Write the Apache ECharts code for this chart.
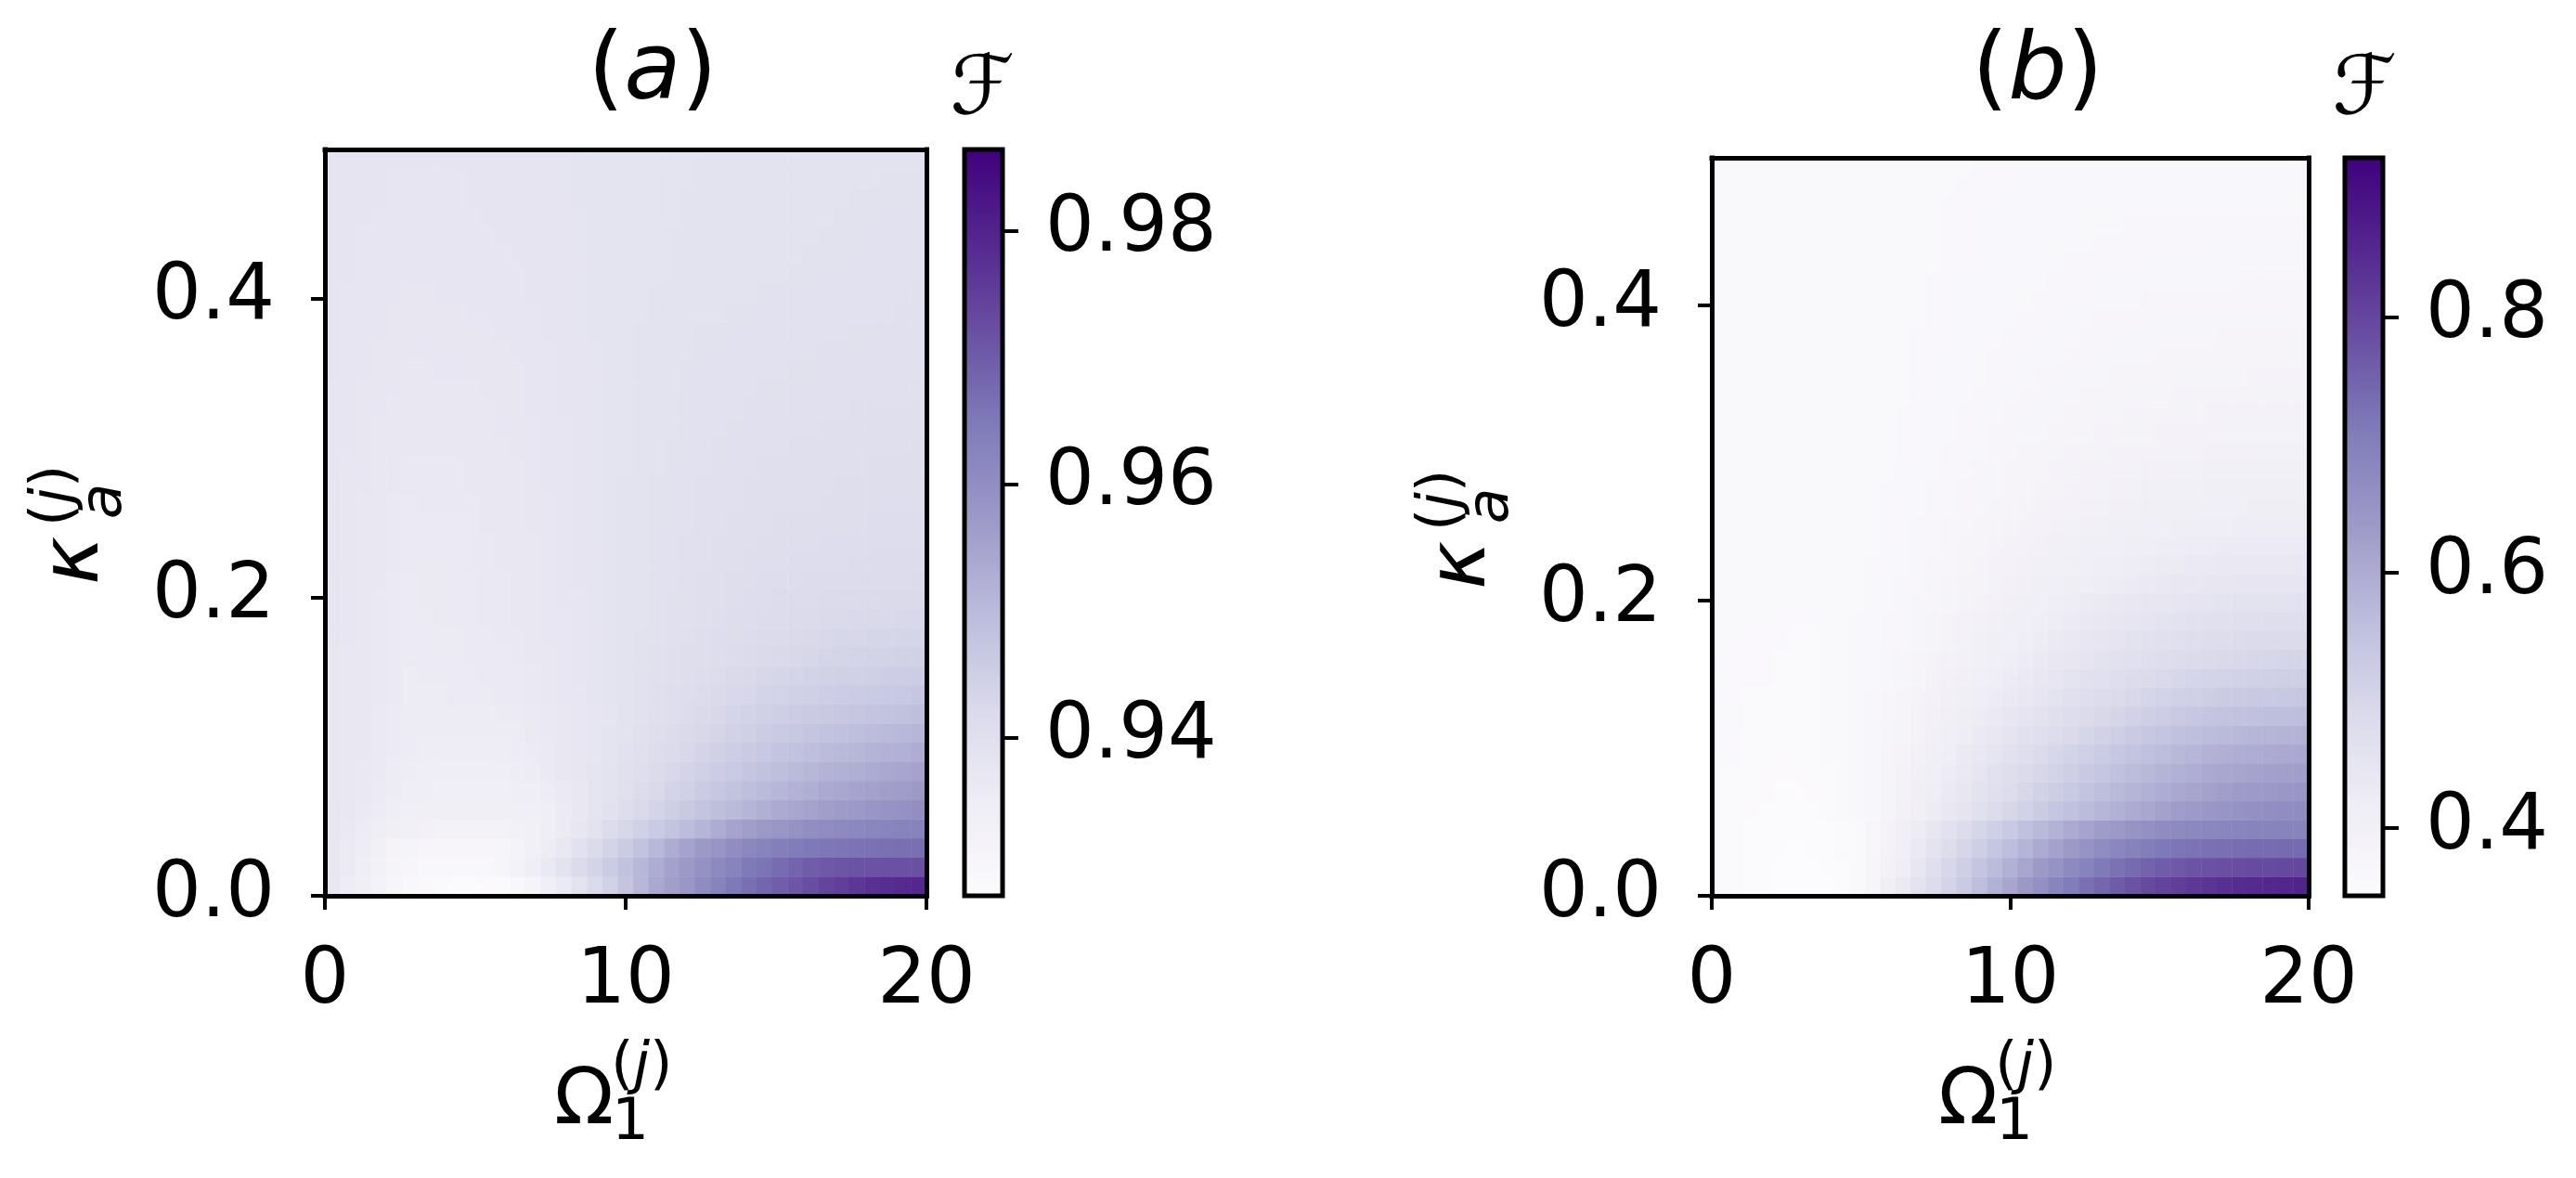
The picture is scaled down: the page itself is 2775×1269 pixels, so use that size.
<!DOCTYPE html>
<html>
<head>
<meta charset="utf-8">
<script src="https://cdn.jsdelivr.net/npm/echarts@6/dist/echarts.min.js"></script>
<style>html,body{margin:0;padding:0;background:#fff}#c{width:2775px;height:1269px}</style>
</head>
<body>
<div id="c"></div>
<script>
// ---------------- data ----------------
const omegaCenters = [0.256,0.769,1.282,1.795,2.308,2.821,3.333,3.846,4.359,4.872,5.385,5.897,6.410,6.923,7.436,7.949,8.462,8.974,9.487,10.000,10.513,11.026,11.538,12.051,12.564,13.077,13.590,14.103,14.615,15.128,15.641,16.154,16.667,17.179,17.692,18.205,18.718,19.231,19.744];
const kappaCenters = [0.0064,0.0192,0.0321,0.0449,0.0577,0.0705,0.0833,0.0962,0.1090,0.1218,0.1346,0.1474,0.1603,0.1731,0.1859,0.1987,0.2115,0.2244,0.2372,0.2500,0.2628,0.2756,0.2885,0.3013,0.3141,0.3269,0.3397,0.3526,0.3654,0.3782,0.3910,0.4038,0.4167,0.4295,0.4423,0.4551,0.4679,0.4808,0.4936];
const xTicks = [0, 10, 20];
const yTicks = [0.0, 0.2, 0.4];
const xRange = [0, 20];
const yRange = [0, 0.5];
const cbarRangeA = [0.9275, 0.9864];
const cbarTicksA = [0.94, 0.96, 0.98];
const cbarRangeB = [0.347, 0.925];
const cbarTicksB = [0.4, 0.6, 0.8];

// rows: kappa from bottom (index 0) to top; columns: omega left to right
const fidelityA = [
[0.9370,0.9351,0.9340,0.9324,0.9309,0.9298,0.9289,0.9284,0.9282,0.9282,0.9283,0.9285,0.9295,0.9312,0.9336,0.9363,0.9392,0.9419,0.9442,0.9475,0.9507,0.9539,0.9562,0.9580,0.9606,0.9629,0.9650,0.9667,0.9682,0.9695,0.9708,0.9722,0.9738,0.9750,0.9762,0.9772,0.9779,0.9786,0.9792],
[0.9375,0.9359,0.9347,0.9330,0.9314,0.9304,0.9298,0.9295,0.9295,0.9295,0.9296,0.9309,0.9324,0.9347,0.9366,0.9389,0.9417,0.9437,0.9460,0.9484,0.9509,0.9532,0.9554,0.9573,0.9593,0.9611,0.9629,0.9646,0.9659,0.9673,0.9685,0.9697,0.9705,0.9710,0.9713,0.9715,0.9716,0.9717,0.9718],
[0.9375,0.9360,0.9351,0.9333,0.9317,0.9312,0.9305,0.9304,0.9304,0.9304,0.9304,0.9307,0.9315,0.9333,0.9351,0.9372,0.9395,0.9419,0.9437,0.9460,0.9481,0.9505,0.9531,0.9552,0.9573,0.9584,0.9602,0.9617,0.9629,0.9638,0.9643,0.9649,0.9653,0.9657,0.9660,0.9662,0.9664,0.9665,0.9666],
[0.9377,0.9366,0.9357,0.9348,0.9336,0.9333,0.9327,0.9324,0.9324,0.9324,0.9324,0.9324,0.9325,0.9333,0.9345,0.9360,0.9375,0.9389,0.9413,0.9431,0.9448,0.9463,0.9478,0.9496,0.9513,0.9531,0.9549,0.9561,0.9573,0.9581,0.9590,0.9599,0.9605,0.9611,0.9616,0.9620,0.9623,0.9626,0.9629],
[0.9377,0.9370,0.9363,0.9356,0.9348,0.9342,0.9340,0.9338,0.9336,0.9336,0.9336,0.9336,0.9336,0.9342,0.9348,0.9358,0.9369,0.9382,0.9395,0.9410,0.9425,0.9438,0.9451,0.9465,0.9478,0.9490,0.9502,0.9513,0.9525,0.9535,0.9544,0.9552,0.9561,0.9568,0.9574,0.9581,0.9587,0.9592,0.9599],
[0.9377,0.9372,0.9366,0.9360,0.9354,0.9348,0.9346,0.9344,0.9342,0.9342,0.9343,0.9344,0.9345,0.9350,0.9356,0.9363,0.9372,0.9382,0.9392,0.9402,0.9413,0.9425,0.9437,0.9448,0.9460,0.9471,0.9481,0.9492,0.9502,0.9510,0.9519,0.9528,0.9537,0.9543,0.9549,0.9555,0.9561,0.9565,0.9573],
[0.9377,0.9372,0.9367,0.9362,0.9356,0.9351,0.9350,0.9349,0.9348,0.9348,0.9349,0.9350,0.9351,0.9356,0.9362,0.9368,0.9375,0.9382,0.9390,0.9399,0.9407,0.9417,0.9428,0.9438,0.9448,0.9457,0.9466,0.9475,0.9484,0.9492,0.9500,0.9509,0.9516,0.9522,0.9528,0.9534,0.9540,0.9544,0.9552],
[0.9377,0.9373,0.9368,0.9363,0.9359,0.9354,0.9353,0.9351,0.9351,0.9351,0.9351,0.9353,0.9354,0.9359,0.9364,0.9369,0.9375,0.9381,0.9388,0.9394,0.9401,0.9410,0.9419,0.9428,0.9437,0.9445,0.9453,0.9461,0.9469,0.9477,0.9484,0.9492,0.9499,0.9504,0.9509,0.9515,0.9519,0.9523,0.9531],
[0.9377,0.9373,0.9368,0.9363,0.9359,0.9354,0.9354,0.9354,0.9354,0.9354,0.9355,0.9356,0.9357,0.9361,0.9366,0.9370,0.9375,0.9380,0.9386,0.9392,0.9398,0.9406,0.9413,0.9421,0.9428,0.9435,0.9442,0.9450,0.9457,0.9463,0.9469,0.9475,0.9481,0.9486,0.9492,0.9497,0.9502,0.9505,0.9510],
[0.9377,0.9373,0.9369,0.9364,0.9360,0.9356,0.9356,0.9356,0.9356,0.9356,0.9357,0.9359,0.9360,0.9364,0.9367,0.9372,0.9376,0.9380,0.9385,0.9390,0.9395,0.9402,0.9408,0.9415,0.9422,0.9428,0.9434,0.9440,0.9445,0.9451,0.9456,0.9461,0.9466,0.9470,0.9474,0.9477,0.9481,0.9484,0.9490],
[0.9377,0.9373,0.9369,0.9365,0.9361,0.9357,0.9357,0.9357,0.9358,0.9359,0.9360,0.9362,0.9363,0.9366,0.9370,0.9374,0.9377,0.9382,0.9386,0.9391,0.9395,0.9401,0.9406,0.9411,0.9416,0.9421,0.9427,0.9431,0.9437,0.9441,0.9445,0.9449,0.9453,0.9457,0.9460,0.9463,0.9466,0.9468,0.9472],
[0.9377,0.9373,0.9369,0.9366,0.9362,0.9357,0.9358,0.9358,0.9359,0.9360,0.9361,0.9363,0.9364,0.9367,0.9371,0.9375,0.9379,0.9383,0.9386,0.9390,0.9394,0.9399,0.9403,0.9408,0.9412,0.9416,0.9421,0.9425,0.9429,0.9432,0.9436,0.9439,0.9442,0.9445,0.9447,0.9450,0.9453,0.9454,0.9457],
[0.9377,0.9373,0.9370,0.9366,0.9362,0.9358,0.9359,0.9359,0.9360,0.9362,0.9363,0.9364,0.9366,0.9369,0.9373,0.9376,0.9379,0.9383,0.9386,0.9390,0.9393,0.9397,0.9401,0.9405,0.9408,0.9412,0.9416,0.9419,0.9423,0.9426,0.9428,0.9431,0.9434,0.9435,0.9438,0.9440,0.9441,0.9442,0.9445],
[0.9378,0.9374,0.9370,0.9367,0.9363,0.9359,0.9359,0.9360,0.9360,0.9362,0.9364,0.9365,0.9367,0.9370,0.9374,0.9377,0.9380,0.9383,0.9387,0.9390,0.9393,0.9396,0.9400,0.9403,0.9406,0.9409,0.9412,0.9415,0.9418,0.9420,0.9422,0.9425,0.9427,0.9429,0.9430,0.9432,0.9433,0.9434,0.9435],
[0.9378,0.9374,0.9370,0.9367,0.9363,0.9359,0.9360,0.9361,0.9361,0.9363,0.9365,0.9366,0.9368,0.9371,0.9374,0.9377,0.9380,0.9383,0.9386,0.9389,0.9392,0.9395,0.9398,0.9400,0.9403,0.9406,0.9409,0.9411,0.9414,0.9416,0.9418,0.9420,0.9422,0.9423,0.9424,0.9425,0.9426,0.9427,0.9428],
[0.9378,0.9374,0.9371,0.9367,0.9364,0.9360,0.9361,0.9361,0.9362,0.9364,0.9366,0.9367,0.9369,0.9372,0.9375,0.9378,0.9381,0.9384,0.9387,0.9389,0.9392,0.9395,0.9397,0.9400,0.9402,0.9404,0.9407,0.9409,0.9411,0.9413,0.9415,0.9416,0.9418,0.9419,0.9420,0.9420,0.9421,0.9421,0.9422],
[0.9379,0.9375,0.9371,0.9368,0.9364,0.9360,0.9361,0.9361,0.9362,0.9364,0.9366,0.9367,0.9369,0.9372,0.9376,0.9379,0.9382,0.9384,0.9387,0.9389,0.9392,0.9394,0.9396,0.9399,0.9401,0.9403,0.9405,0.9407,0.9409,0.9410,0.9412,0.9413,0.9414,0.9414,0.9415,0.9415,0.9416,0.9416,0.9417],
[0.9379,0.9375,0.9372,0.9368,0.9365,0.9361,0.9362,0.9362,0.9363,0.9365,0.9367,0.9368,0.9370,0.9373,0.9376,0.9379,0.9382,0.9385,0.9387,0.9390,0.9392,0.9394,0.9396,0.9398,0.9400,0.9402,0.9404,0.9405,0.9407,0.9408,0.9409,0.9410,0.9411,0.9412,0.9413,0.9413,0.9414,0.9414,0.9414],
[0.9379,0.9376,0.9372,0.9369,0.9365,0.9362,0.9363,0.9363,0.9364,0.9366,0.9367,0.9369,0.9370,0.9373,0.9376,0.9379,0.9382,0.9385,0.9387,0.9390,0.9392,0.9394,0.9396,0.9397,0.9399,0.9401,0.9402,0.9404,0.9405,0.9406,0.9407,0.9408,0.9409,0.9409,0.9410,0.9410,0.9411,0.9411,0.9412],
[0.9379,0.9376,0.9373,0.9369,0.9366,0.9363,0.9363,0.9364,0.9364,0.9366,0.9368,0.9369,0.9371,0.9374,0.9377,0.9379,0.9382,0.9384,0.9387,0.9389,0.9391,0.9393,0.9395,0.9396,0.9398,0.9400,0.9401,0.9403,0.9404,0.9405,0.9405,0.9406,0.9407,0.9408,0.9408,0.9409,0.9409,0.9409,0.9410],
[0.9379,0.9376,0.9373,0.9370,0.9367,0.9364,0.9365,0.9365,0.9366,0.9367,0.9369,0.9370,0.9372,0.9375,0.9377,0.9380,0.9382,0.9384,0.9387,0.9389,0.9391,0.9393,0.9395,0.9396,0.9398,0.9399,0.9400,0.9401,0.9402,0.9403,0.9404,0.9404,0.9405,0.9406,0.9406,0.9407,0.9407,0.9407,0.9408],
[0.9380,0.9377,0.9374,0.9371,0.9368,0.9365,0.9366,0.9366,0.9367,0.9368,0.9370,0.9371,0.9373,0.9376,0.9378,0.9381,0.9383,0.9385,0.9387,0.9389,0.9391,0.9393,0.9394,0.9396,0.9397,0.9398,0.9400,0.9401,0.9402,0.9402,0.9403,0.9403,0.9404,0.9405,0.9405,0.9406,0.9406,0.9406,0.9407],
[0.9380,0.9377,0.9374,0.9372,0.9369,0.9366,0.9366,0.9367,0.9367,0.9369,0.9370,0.9372,0.9373,0.9376,0.9378,0.9381,0.9383,0.9385,0.9387,0.9388,0.9390,0.9392,0.9393,0.9395,0.9396,0.9397,0.9399,0.9400,0.9401,0.9401,0.9402,0.9402,0.9403,0.9404,0.9404,0.9405,0.9405,0.9405,0.9406],
[0.9380,0.9378,0.9375,0.9373,0.9370,0.9368,0.9368,0.9369,0.9369,0.9370,0.9371,0.9373,0.9374,0.9377,0.9379,0.9381,0.9383,0.9385,0.9387,0.9388,0.9390,0.9392,0.9393,0.9395,0.9396,0.9397,0.9398,0.9399,0.9400,0.9400,0.9401,0.9401,0.9402,0.9403,0.9403,0.9404,0.9404,0.9404,0.9405],
[0.9380,0.9378,0.9376,0.9373,0.9371,0.9369,0.9369,0.9370,0.9370,0.9371,0.9372,0.9374,0.9375,0.9377,0.9379,0.9381,0.9383,0.9385,0.9387,0.9388,0.9390,0.9391,0.9392,0.9394,0.9395,0.9396,0.9397,0.9398,0.9399,0.9399,0.9400,0.9400,0.9401,0.9401,0.9402,0.9402,0.9402,0.9403,0.9403],
[0.9381,0.9379,0.9377,0.9374,0.9373,0.9371,0.9371,0.9371,0.9371,0.9372,0.9373,0.9375,0.9376,0.9378,0.9380,0.9382,0.9384,0.9385,0.9387,0.9388,0.9390,0.9391,0.9392,0.9394,0.9395,0.9396,0.9396,0.9397,0.9398,0.9398,0.9399,0.9399,0.9400,0.9400,0.9401,0.9401,0.9401,0.9402,0.9402],
[0.9381,0.9379,0.9377,0.9375,0.9374,0.9372,0.9372,0.9372,0.9372,0.9373,0.9374,0.9375,0.9376,0.9378,0.9380,0.9382,0.9384,0.9385,0.9386,0.9388,0.9389,0.9390,0.9391,0.9393,0.9394,0.9395,0.9395,0.9396,0.9397,0.9397,0.9398,0.9398,0.9399,0.9399,0.9399,0.9400,0.9400,0.9400,0.9401],
[0.9382,0.9380,0.9378,0.9376,0.9375,0.9373,0.9373,0.9374,0.9374,0.9375,0.9375,0.9376,0.9377,0.9379,0.9381,0.9383,0.9384,0.9385,0.9386,0.9388,0.9389,0.9390,0.9391,0.9393,0.9394,0.9394,0.9395,0.9395,0.9396,0.9396,0.9397,0.9397,0.9398,0.9398,0.9398,0.9399,0.9399,0.9399,0.9400],
[0.9382,0.9380,0.9379,0.9377,0.9376,0.9374,0.9374,0.9375,0.9375,0.9376,0.9376,0.9377,0.9378,0.9380,0.9381,0.9383,0.9384,0.9385,0.9386,0.9388,0.9389,0.9390,0.9391,0.9392,0.9393,0.9393,0.9394,0.9394,0.9395,0.9395,0.9396,0.9396,0.9397,0.9397,0.9397,0.9398,0.9398,0.9398,0.9399],
[0.9382,0.9381,0.9380,0.9378,0.9377,0.9375,0.9375,0.9376,0.9376,0.9377,0.9377,0.9378,0.9379,0.9381,0.9382,0.9384,0.9385,0.9386,0.9386,0.9388,0.9389,0.9390,0.9391,0.9392,0.9393,0.9393,0.9394,0.9394,0.9395,0.9395,0.9395,0.9396,0.9396,0.9396,0.9397,0.9397,0.9397,0.9398,0.9399],
[0.9382,0.9381,0.9380,0.9379,0.9377,0.9376,0.9376,0.9377,0.9377,0.9378,0.9378,0.9379,0.9380,0.9381,0.9382,0.9384,0.9385,0.9386,0.9386,0.9387,0.9388,0.9389,0.9390,0.9391,0.9392,0.9392,0.9393,0.9393,0.9394,0.9394,0.9394,0.9395,0.9395,0.9395,0.9396,0.9396,0.9396,0.9397,0.9398],
[0.9382,0.9381,0.9380,0.9379,0.9378,0.9377,0.9377,0.9378,0.9378,0.9379,0.9379,0.9380,0.9381,0.9382,0.9382,0.9384,0.9385,0.9386,0.9386,0.9387,0.9388,0.9389,0.9390,0.9390,0.9391,0.9391,0.9392,0.9392,0.9393,0.9393,0.9393,0.9394,0.9394,0.9394,0.9395,0.9395,0.9395,0.9396,0.9397],
[0.9383,0.9382,0.9381,0.9380,0.9379,0.9378,0.9378,0.9378,0.9378,0.9379,0.9379,0.9380,0.9381,0.9382,0.9383,0.9384,0.9385,0.9386,0.9386,0.9387,0.9388,0.9388,0.9389,0.9390,0.9390,0.9391,0.9391,0.9392,0.9392,0.9392,0.9393,0.9393,0.9393,0.9394,0.9394,0.9395,0.9395,0.9395,0.9396],
[0.9383,0.9382,0.9381,0.9380,0.9380,0.9379,0.9379,0.9379,0.9379,0.9380,0.9380,0.9381,0.9382,0.9383,0.9383,0.9384,0.9385,0.9386,0.9386,0.9387,0.9388,0.9388,0.9389,0.9389,0.9390,0.9390,0.9391,0.9391,0.9392,0.9392,0.9392,0.9393,0.9393,0.9393,0.9394,0.9394,0.9395,0.9395,0.9395],
[0.9383,0.9382,0.9381,0.9381,0.9380,0.9380,0.9380,0.9380,0.9380,0.9381,0.9381,0.9382,0.9382,0.9383,0.9384,0.9384,0.9385,0.9386,0.9386,0.9387,0.9388,0.9388,0.9389,0.9389,0.9390,0.9390,0.9390,0.9391,0.9391,0.9392,0.9392,0.9392,0.9393,0.9393,0.9393,0.9394,0.9394,0.9394,0.9395],
[0.9383,0.9382,0.9382,0.9381,0.9381,0.9380,0.9380,0.9380,0.9381,0.9381,0.9382,0.9382,0.9383,0.9383,0.9384,0.9385,0.9385,0.9386,0.9386,0.9387,0.9388,0.9388,0.9388,0.9389,0.9389,0.9390,0.9390,0.9391,0.9391,0.9391,0.9392,0.9392,0.9392,0.9393,0.9393,0.9393,0.9394,0.9394,0.9394],
[0.9383,0.9383,0.9382,0.9382,0.9381,0.9381,0.9381,0.9381,0.9381,0.9382,0.9382,0.9383,0.9383,0.9384,0.9384,0.9385,0.9386,0.9386,0.9387,0.9387,0.9388,0.9388,0.9388,0.9389,0.9389,0.9390,0.9390,0.9391,0.9391,0.9391,0.9392,0.9392,0.9392,0.9392,0.9393,0.9393,0.9393,0.9393,0.9394],
[0.9383,0.9383,0.9382,0.9382,0.9381,0.9381,0.9381,0.9381,0.9381,0.9382,0.9382,0.9383,0.9383,0.9384,0.9384,0.9385,0.9386,0.9386,0.9386,0.9387,0.9387,0.9388,0.9388,0.9388,0.9389,0.9389,0.9390,0.9390,0.9390,0.9391,0.9391,0.9391,0.9392,0.9392,0.9392,0.9392,0.9393,0.9393,0.9393],
[0.9384,0.9383,0.9383,0.9383,0.9382,0.9382,0.9382,0.9382,0.9382,0.9382,0.9383,0.9383,0.9383,0.9384,0.9385,0.9385,0.9386,0.9386,0.9386,0.9387,0.9387,0.9387,0.9388,0.9388,0.9389,0.9389,0.9389,0.9390,0.9390,0.9390,0.9390,0.9391,0.9391,0.9391,0.9391,0.9392,0.9392,0.9392,0.9392]
];

const fidelityB = [
[0.362,0.357,0.352,0.350,0.348,0.347,0.347,0.348,0.354,0.362,0.380,0.407,0.432,0.460,0.483,0.507,0.530,0.558,0.587,0.613,0.639,0.662,0.688,0.709,0.729,0.746,0.763,0.778,0.792,0.804,0.814,0.824,0.831,0.838,0.844,0.849,0.853,0.857,0.860],
[0.362,0.357,0.352,0.350,0.348,0.348,0.348,0.350,0.354,0.362,0.377,0.397,0.420,0.446,0.472,0.498,0.521,0.544,0.567,0.590,0.613,0.636,0.657,0.677,0.694,0.711,0.726,0.740,0.752,0.760,0.769,0.775,0.781,0.785,0.788,0.791,0.793,0.796,0.798],
[0.362,0.357,0.353,0.351,0.350,0.349,0.350,0.351,0.355,0.363,0.377,0.394,0.414,0.434,0.458,0.481,0.501,0.521,0.541,0.561,0.582,0.602,0.622,0.639,0.657,0.671,0.685,0.697,0.707,0.714,0.720,0.725,0.729,0.732,0.734,0.737,0.738,0.740,0.740],
[0.362,0.357,0.353,0.351,0.351,0.350,0.351,0.353,0.357,0.364,0.376,0.391,0.408,0.426,0.446,0.466,0.483,0.501,0.518,0.535,0.553,0.570,0.587,0.602,0.616,0.631,0.642,0.654,0.662,0.670,0.676,0.681,0.684,0.687,0.689,0.691,0.692,0.694,0.694],
[0.362,0.358,0.355,0.353,0.352,0.352,0.353,0.356,0.361,0.367,0.374,0.385,0.397,0.411,0.426,0.440,0.455,0.469,0.483,0.498,0.512,0.527,0.541,0.555,0.567,0.579,0.590,0.601,0.610,0.621,0.631,0.638,0.645,0.651,0.657,0.661,0.665,0.668,0.671],
[0.362,0.359,0.356,0.355,0.354,0.354,0.355,0.358,0.363,0.369,0.374,0.384,0.394,0.407,0.420,0.433,0.446,0.459,0.472,0.485,0.498,0.511,0.524,0.535,0.547,0.558,0.570,0.580,0.590,0.599,0.608,0.614,0.622,0.628,0.634,0.638,0.642,0.645,0.648],
[0.362,0.359,0.357,0.356,0.355,0.355,0.356,0.359,0.364,0.369,0.374,0.383,0.391,0.403,0.414,0.426,0.437,0.450,0.463,0.475,0.486,0.498,0.509,0.521,0.533,0.542,0.553,0.563,0.573,0.582,0.590,0.597,0.605,0.610,0.615,0.619,0.623,0.625,0.628],
[0.362,0.360,0.358,0.357,0.356,0.356,0.357,0.360,0.365,0.369,0.374,0.381,0.388,0.398,0.408,0.420,0.432,0.443,0.455,0.464,0.475,0.486,0.498,0.508,0.518,0.528,0.538,0.547,0.556,0.564,0.573,0.579,0.586,0.591,0.596,0.599,0.603,0.605,0.608],
[0.362,0.360,0.359,0.358,0.357,0.357,0.358,0.361,0.365,0.369,0.374,0.380,0.385,0.394,0.403,0.413,0.423,0.433,0.443,0.453,0.463,0.473,0.483,0.492,0.501,0.511,0.521,0.530,0.538,0.545,0.553,0.558,0.564,0.569,0.574,0.577,0.580,0.582,0.584],
[0.362,0.361,0.359,0.358,0.358,0.358,0.358,0.361,0.365,0.369,0.373,0.378,0.383,0.391,0.398,0.407,0.416,0.425,0.434,0.444,0.453,0.462,0.471,0.479,0.488,0.496,0.504,0.512,0.520,0.526,0.533,0.538,0.544,0.548,0.552,0.555,0.558,0.560,0.561],
[0.361,0.360,0.359,0.359,0.358,0.358,0.359,0.361,0.365,0.368,0.372,0.376,0.381,0.387,0.394,0.402,0.410,0.418,0.426,0.434,0.443,0.451,0.459,0.467,0.475,0.482,0.489,0.496,0.503,0.508,0.514,0.519,0.524,0.527,0.531,0.533,0.535,0.537,0.538],
[0.361,0.361,0.360,0.360,0.359,0.359,0.358,0.361,0.365,0.368,0.370,0.374,0.378,0.384,0.391,0.398,0.404,0.412,0.419,0.427,0.434,0.441,0.449,0.456,0.463,0.470,0.476,0.482,0.488,0.493,0.498,0.503,0.507,0.510,0.513,0.516,0.518,0.520,0.521],
[0.361,0.360,0.360,0.360,0.359,0.359,0.359,0.362,0.364,0.367,0.369,0.373,0.377,0.382,0.387,0.393,0.400,0.406,0.413,0.420,0.427,0.433,0.440,0.447,0.453,0.459,0.464,0.470,0.475,0.479,0.484,0.488,0.492,0.494,0.497,0.499,0.501,0.503,0.504],
[0.361,0.361,0.360,0.360,0.360,0.359,0.359,0.362,0.364,0.366,0.368,0.372,0.375,0.380,0.384,0.390,0.396,0.402,0.408,0.414,0.420,0.426,0.432,0.438,0.444,0.449,0.454,0.459,0.463,0.467,0.472,0.475,0.479,0.481,0.484,0.486,0.488,0.488,0.489],
[0.361,0.361,0.361,0.361,0.360,0.360,0.360,0.362,0.364,0.366,0.368,0.371,0.374,0.378,0.382,0.387,0.392,0.398,0.403,0.408,0.414,0.420,0.425,0.430,0.436,0.440,0.445,0.449,0.453,0.457,0.461,0.464,0.467,0.470,0.472,0.473,0.475,0.475,0.477],
[0.361,0.361,0.361,0.361,0.361,0.361,0.361,0.362,0.364,0.365,0.367,0.370,0.373,0.376,0.380,0.384,0.389,0.393,0.399,0.403,0.408,0.413,0.418,0.423,0.428,0.432,0.436,0.440,0.444,0.447,0.450,0.452,0.455,0.457,0.459,0.460,0.462,0.462,0.463],
[0.361,0.361,0.361,0.361,0.361,0.361,0.361,0.362,0.364,0.365,0.366,0.369,0.372,0.374,0.378,0.382,0.386,0.390,0.395,0.399,0.403,0.407,0.412,0.416,0.420,0.423,0.427,0.431,0.434,0.437,0.440,0.443,0.445,0.446,0.448,0.448,0.449,0.450,0.451],
[0.361,0.361,0.361,0.361,0.361,0.361,0.361,0.362,0.363,0.365,0.366,0.368,0.370,0.373,0.376,0.380,0.383,0.387,0.391,0.395,0.399,0.402,0.406,0.410,0.414,0.417,0.420,0.423,0.426,0.428,0.431,0.433,0.434,0.436,0.437,0.438,0.438,0.438,0.439],
[0.361,0.361,0.361,0.361,0.361,0.362,0.362,0.362,0.363,0.364,0.365,0.367,0.369,0.372,0.374,0.377,0.381,0.384,0.388,0.391,0.395,0.398,0.402,0.404,0.408,0.411,0.414,0.416,0.419,0.421,0.423,0.425,0.426,0.428,0.429,0.429,0.430,0.430,0.430],
[0.361,0.361,0.361,0.361,0.361,0.362,0.362,0.362,0.363,0.364,0.365,0.366,0.369,0.371,0.373,0.376,0.379,0.382,0.385,0.388,0.391,0.394,0.397,0.400,0.403,0.405,0.408,0.410,0.413,0.414,0.416,0.417,0.419,0.420,0.421,0.422,0.422,0.422,0.423],
[0.361,0.361,0.361,0.361,0.362,0.362,0.362,0.363,0.363,0.364,0.365,0.366,0.368,0.370,0.372,0.374,0.377,0.380,0.383,0.385,0.388,0.391,0.393,0.396,0.398,0.400,0.403,0.404,0.407,0.408,0.410,0.411,0.413,0.413,0.414,0.415,0.415,0.415,0.416],
[0.361,0.361,0.361,0.362,0.362,0.362,0.362,0.363,0.363,0.364,0.365,0.366,0.368,0.369,0.371,0.373,0.376,0.378,0.380,0.383,0.385,0.388,0.390,0.392,0.394,0.396,0.398,0.400,0.402,0.403,0.404,0.406,0.407,0.407,0.408,0.409,0.410,0.410,0.410],
[0.361,0.361,0.361,0.362,0.362,0.362,0.362,0.363,0.363,0.363,0.364,0.365,0.367,0.369,0.370,0.372,0.374,0.376,0.378,0.381,0.383,0.385,0.387,0.389,0.391,0.392,0.394,0.396,0.398,0.399,0.400,0.401,0.402,0.403,0.403,0.404,0.404,0.404,0.405],
[0.361,0.361,0.362,0.362,0.362,0.362,0.362,0.363,0.363,0.363,0.364,0.365,0.366,0.368,0.369,0.371,0.373,0.375,0.377,0.378,0.381,0.383,0.384,0.386,0.388,0.389,0.391,0.392,0.393,0.395,0.396,0.396,0.398,0.398,0.399,0.399,0.400,0.400,0.400],
[0.361,0.361,0.362,0.362,0.362,0.362,0.362,0.363,0.363,0.363,0.364,0.365,0.366,0.368,0.369,0.370,0.372,0.374,0.376,0.377,0.379,0.380,0.382,0.383,0.385,0.386,0.388,0.389,0.390,0.391,0.392,0.393,0.394,0.395,0.395,0.395,0.396,0.396,0.396],
[0.361,0.361,0.362,0.362,0.362,0.362,0.362,0.363,0.363,0.363,0.363,0.365,0.366,0.367,0.368,0.370,0.371,0.373,0.374,0.376,0.377,0.378,0.380,0.381,0.383,0.384,0.385,0.386,0.387,0.388,0.389,0.390,0.391,0.391,0.392,0.392,0.392,0.392,0.393],
[0.362,0.362,0.362,0.362,0.362,0.362,0.362,0.363,0.363,0.363,0.363,0.365,0.365,0.366,0.368,0.369,0.370,0.372,0.373,0.374,0.376,0.377,0.378,0.380,0.381,0.382,0.383,0.384,0.385,0.385,0.386,0.387,0.388,0.388,0.388,0.388,0.389,0.389,0.389],
[0.362,0.362,0.362,0.362,0.362,0.362,0.362,0.363,0.363,0.363,0.363,0.365,0.365,0.366,0.367,0.368,0.369,0.370,0.372,0.373,0.374,0.376,0.377,0.378,0.378,0.380,0.381,0.382,0.383,0.383,0.384,0.384,0.385,0.385,0.385,0.386,0.386,0.387,0.387],
[0.362,0.362,0.362,0.362,0.362,0.362,0.362,0.363,0.363,0.363,0.363,0.364,0.365,0.366,0.366,0.368,0.369,0.370,0.371,0.372,0.373,0.374,0.375,0.376,0.377,0.378,0.378,0.380,0.380,0.381,0.381,0.382,0.383,0.383,0.383,0.383,0.383,0.384,0.384],
[0.362,0.362,0.362,0.362,0.362,0.363,0.363,0.363,0.363,0.363,0.363,0.364,0.365,0.366,0.366,0.368,0.368,0.369,0.370,0.372,0.372,0.373,0.374,0.375,0.376,0.377,0.377,0.378,0.378,0.379,0.380,0.380,0.380,0.381,0.381,0.381,0.381,0.381,0.381],
[0.362,0.362,0.362,0.362,0.362,0.363,0.363,0.363,0.363,0.363,0.363,0.364,0.365,0.365,0.366,0.367,0.368,0.369,0.369,0.370,0.371,0.372,0.373,0.374,0.375,0.376,0.376,0.377,0.377,0.378,0.378,0.378,0.379,0.379,0.379,0.379,0.379,0.379,0.379],
[0.363,0.363,0.363,0.363,0.363,0.363,0.363,0.363,0.363,0.363,0.363,0.364,0.365,0.365,0.366,0.367,0.368,0.368,0.369,0.370,0.370,0.371,0.372,0.373,0.373,0.374,0.374,0.375,0.376,0.376,0.376,0.377,0.377,0.377,0.377,0.377,0.377,0.377,0.377],
[0.363,0.363,0.363,0.363,0.363,0.363,0.363,0.363,0.363,0.363,0.363,0.364,0.365,0.365,0.366,0.367,0.367,0.368,0.369,0.369,0.370,0.370,0.371,0.372,0.372,0.373,0.373,0.374,0.374,0.374,0.374,0.375,0.375,0.375,0.376,0.376,0.376,0.376,0.376],
[0.363,0.363,0.363,0.363,0.363,0.363,0.363,0.363,0.363,0.363,0.363,0.364,0.365,0.365,0.365,0.366,0.366,0.367,0.368,0.369,0.369,0.370,0.370,0.371,0.371,0.372,0.372,0.372,0.373,0.373,0.373,0.373,0.374,0.374,0.374,0.374,0.374,0.374,0.374],
[0.363,0.363,0.363,0.363,0.363,0.363,0.363,0.363,0.363,0.363,0.363,0.364,0.364,0.365,0.365,0.366,0.366,0.367,0.368,0.368,0.369,0.369,0.370,0.370,0.370,0.371,0.371,0.372,0.372,0.372,0.372,0.372,0.372,0.373,0.373,0.373,0.373,0.373,0.373],
[0.363,0.363,0.363,0.363,0.363,0.363,0.363,0.363,0.363,0.363,0.363,0.364,0.364,0.365,0.365,0.366,0.366,0.367,0.367,0.368,0.368,0.369,0.369,0.369,0.370,0.370,0.370,0.371,0.371,0.371,0.371,0.371,0.371,0.371,0.372,0.372,0.372,0.372,0.372],
[0.363,0.363,0.363,0.363,0.363,0.363,0.363,0.363,0.363,0.363,0.363,0.364,0.364,0.364,0.365,0.366,0.366,0.366,0.367,0.367,0.368,0.368,0.369,0.369,0.369,0.370,0.370,0.370,0.370,0.370,0.370,0.370,0.370,0.370,0.370,0.370,0.370,0.370,0.370],
[0.363,0.363,0.363,0.363,0.363,0.363,0.363,0.363,0.363,0.363,0.363,0.364,0.364,0.364,0.365,0.365,0.366,0.366,0.366,0.367,0.367,0.368,0.368,0.368,0.369,0.369,0.369,0.369,0.369,0.369,0.369,0.369,0.369,0.369,0.369,0.369,0.369,0.369,0.369],
[0.363,0.363,0.363,0.363,0.363,0.363,0.363,0.363,0.363,0.363,0.363,0.363,0.364,0.364,0.365,0.365,0.365,0.366,0.366,0.366,0.367,0.367,0.367,0.368,0.368,0.368,0.368,0.368,0.368,0.368,0.368,0.368,0.368,0.368,0.368,0.368,0.368,0.368,0.368]
];

// matplotlib "Purples" colormap stops
const PURPLES = ['#fcfbfd','#efedf5','#dadaeb','#bcbddc','#9e9ac8','#807dba','#6a51a3','#54278f','#3f007d'];

// ---------------- chart ----------------
const FONT = 'DejaVu Sans';
const LW = 5;
const TICK_FS = 83;

function toCells(rows) {
  const out = [];
  rows.forEach((row, j) => row.forEach((v, i) => out.push([i, j, v])));
  return out;
}

const axisLineStyle = { color: '#000', width: LW, cap: 'square' };
const tickLabel = { color: '#000', fontFamily: FONT, fontSize: TICK_FS };

function hiddenCat(g, data) {
  return { gridIndex: g, type: 'category', data: data, show: false, boundaryGap: true };
}
function hiddenVal(g, range) {
  return { gridIndex: g, type: 'value', min: range[0], max: range[1], show: false };
}
function mainX(g) {
  return {
    gridIndex: g, type: 'value', min: xRange[0], max: xRange[1], position: 'bottom', z: 10,
    axisLine: { show: true, onZero: false, lineStyle: axisLineStyle },
    axisTick: { show: true, inside: false, length: 15, lineStyle: { color: '#000', width: 4 }, customValues: xTicks },
    axisLabel: Object.assign({ show: true, margin: 52, customValues: xTicks, formatter: v => String(Math.round(v)) }, tickLabel),
    splitLine: { show: false }
  };
}
function mainY(g) {
  return {
    gridIndex: g, type: 'value', min: yRange[0], max: yRange[1], position: 'left', z: 10,
    axisLine: { show: true, onZero: false, lineStyle: axisLineStyle },
    axisTick: { show: true, inside: false, length: 15, lineStyle: { color: '#000', width: 4 }, customValues: yTicks },
    axisLabel: Object.assign({ show: true, margin: 54, customValues: yTicks, formatter: v => v.toFixed(1) }, tickLabel),
    splitLine: { show: false }
  };
}
function frameAxis(g, pos, range) {
  return {
    gridIndex: g, type: 'value', min: range[0], max: range[1], position: pos, z: 10,
    axisLine: { show: true, onZero: false, lineStyle: axisLineStyle },
    axisTick: { show: false }, axisLabel: { show: false }, splitLine: { show: false }
  };
}
function cbarAxis(g, range, ticks, digits) {
  return {
    gridIndex: g, type: 'value', min: range[0], max: range[1], position: 'right', z: 10,
    axisLine: { show: false, onZero: false },
    axisTick: { show: true, inside: false, length: 17, lineStyle: { color: '#000', width: 4 }, customValues: ticks },
    axisLabel: Object.assign({ show: true, margin: 46, customValues: ticks, formatter: v => v.toFixed(digits) }, tickLabel),
    splitLine: { show: false }
  };
}
function cbarSeries(xi, yi, range) {
  return {
    type: 'custom', xAxisIndex: xi, yAxisIndex: yi, silent: true, z: 3, clip: false,
    data: [[0, range[0]]],
    renderItem: (params, api) => {
      const p0 = api.coord([0, range[0]]);
      const p1 = api.coord([1, range[1]]);
      return {
        type: 'rect',
        shape: { x: p0[0], y: p1[1], width: p1[0] - p0[0], height: p0[1] - p1[1] },
        style: {
          fill: { type: 'linear', x: 0, y: 1, x2: 0, y2: 0,
                  colorStops: PURPLES.map((c, k) => ({ offset: k / (PURPLES.length - 1), color: c })) },
          stroke: '#000', lineWidth: LW
        }
      };
    }
  };
}
function heatSeries(xi, yi, rows) {
  return {
    type: 'heatmap', xAxisIndex: xi, yAxisIndex: yi, data: toCells(rows),
    progressive: 0, silent: true, emphasis: { disabled: true },
    itemStyle: { borderWidth: 0 }
  };
}

// ---- text helpers (titles / math labels) ----
function txt(x, y, text, size, opts) {
  opts = opts || {};
  return {
    type: 'text', x: x, y: y, rotation: opts.rot || 0, silent: true, z: 20,
    style: {
      text: text, fill: '#000', fontFamily: FONT, fontSize: size,
      fontStyle: opts.italic ? 'italic' : 'normal',
      align: opts.align || 'center', verticalAlign: opts.va || 'middle',
      rich: { i: { fontStyle: 'italic', fontFamily: FONT, fontSize: size, fill: '#000' },
              n: { fontStyle: 'normal', fontFamily: FONT, fontSize: size, fill: '#000' } }
    }
  };
}
function omegaLabel(cx) { // cx = plot centre x
  return [
    txt(cx - 77, 1188, 'Ω', 84, { align: 'left' }),
    txt(cx - 16, 1150, '({i|j})', 63, { align: 'left' }),
    txt(cx - 15, 1211, '1', 63, { align: 'left' })
  ];
}
function kappaLabel(x, y) { // x,y = kappa glyph centre
  const R = Math.PI / 2;
  return [
    txt(x - 6, y, 'κ', 88, { italic: true, rot: R }),
    txt(x + 26, y - 64, 'a', 63, { italic: true, rot: R }),
    txt(x - 28, y - 70, '({i|j})', 63, { rot: R })
  ];
}

const option = {
  backgroundColor: '#ffffff',
  animation: false,
  textStyle: { fontFamily: FONT },
  grid: [
    { left: 350, top: 161, width: 648, height: 804, containLabel: false, outerBoundsMode: 'none' },
    { left: 1039, top: 161, width: 41, height: 804, containLabel: false, outerBoundsMode: 'none' },
    { left: 1844, top: 170, width: 643, height: 795, containLabel: false, outerBoundsMode: 'none' },
    { left: 2526, top: 170, width: 41, height: 795, containLabel: false, outerBoundsMode: 'none' }
  ],
  xAxis: [
    hiddenCat(0, omegaCenters),      // 0
    mainX(0),                         // 1
    frameAxis(0, 'top', xRange),      // 2
    hiddenVal(1, [0, 1]),             // 3
    hiddenCat(2, omegaCenters),       // 4
    mainX(2),                         // 5
    frameAxis(2, 'top', xRange),      // 6
    hiddenVal(3, [0, 1])              // 7
  ],
  yAxis: [
    hiddenCat(0, kappaCenters),                 // 0
    mainY(0),                                   // 1
    frameAxis(0, 'right', yRange),              // 2
    cbarAxis(1, cbarRangeA, cbarTicksA, 2),     // 3
    hiddenCat(2, kappaCenters),                 // 4
    mainY(2),                                   // 5
    frameAxis(2, 'right', yRange),              // 6
    cbarAxis(3, cbarRangeB, cbarTicksB, 1)      // 7
  ],
  visualMap: [
    { type: 'continuous', show: false, seriesIndex: 0, dimension: 2,
      min: cbarRangeA[0], max: cbarRangeA[1], inRange: { color: PURPLES } },
    { type: 'continuous', show: false, seriesIndex: 2, dimension: 2,
      min: cbarRangeB[0], max: cbarRangeB[1], inRange: { color: PURPLES } }
  ],
  series: [
    heatSeries(0, 0, fidelityA),
    cbarSeries(3, 3, cbarRangeA),
    heatSeries(4, 4, fidelityB),
    cbarSeries(7, 7, cbarRangeB)
  ],
  graphic: [].concat(
    [txt(703, 80, '({i|a})', 100), txt(2195, 80, '({i|b})', 100)],
    [txt(1058, 99, 'ℱ', 88, { italic: true }), txt(2547, 99, 'ℱ', 88, { italic: true })],
    omegaLabel(674), omegaLabel(2165),
    kappaLabel(88, 604), kappaLabel(1582, 609)
  )
};

const chart = echarts.init(document.getElementById('c'), null, { renderer: 'canvas', width: 2775, height: 1269 });
chart.setOption(option);
</script>
</body>
</html>
